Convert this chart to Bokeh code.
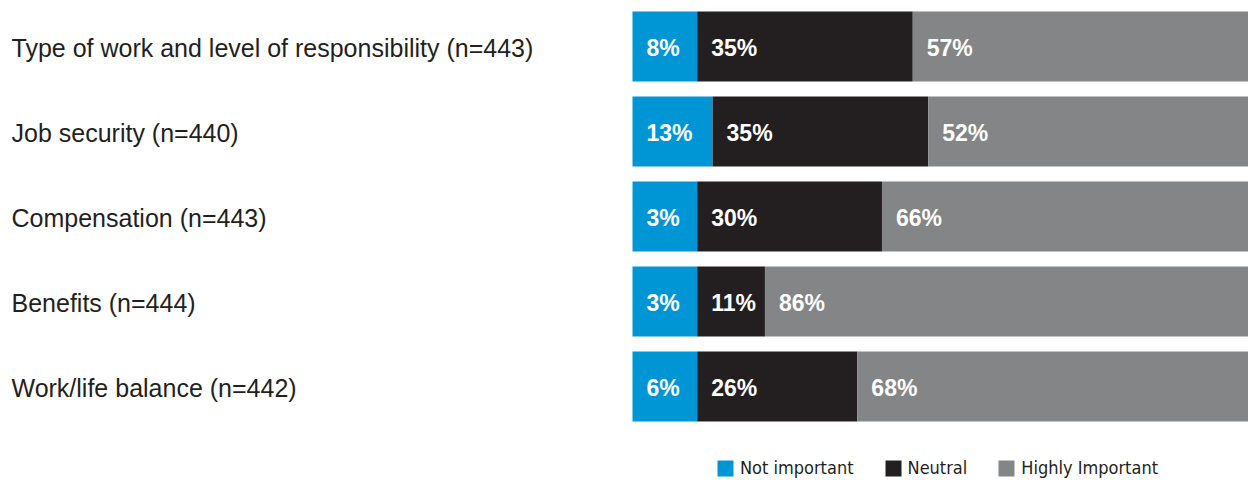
from bokeh.plotting import figure
from bokeh.models import Range1d, ColumnDataSource, Legend, LegendItem
from bokeh.core.properties import value
from bokeh.embed import file_html
from bokeh.resources import INLINE

categories = [
    "Type of work and level of responsibility (n=443)",
    "Job security (n=440)",
    "Compensation (n=443)",
    "Benefits (n=444)",
    "Work/life balance (n=442)",
]
not_important = [8, 13, 3, 3, 6]
neutral = [35, 35, 30, 11, 26]
highly_important = [57, 52, 66, 86, 68]
series_names = ["Not important", "Neutral", "Highly Important"]
colors = ["#0096D6", "#231F20", "#848587"]

W, H = 1248, 480
BAR_LEFT = 632          # pixel where 0% sits
PX_PER_UNIT = (W - BAR_LEFT) / 100.0
ROW_PITCH = 85.0
FIRST_CENTER = 46.0
MIN_SEG = 10.5          # minimum drawn width (in % units) so a label fits

rows = list(range(len(categories)))
x_start = -BAR_LEFT / PX_PER_UNIT
y_top = -FIRST_CENTER / ROW_PITCH
y_bottom = (H - FIRST_CENTER) / ROW_PITCH

p = figure(width=W, height=H, output_backend="svg", toolbar_location=None,
           x_range=Range1d(x_start, 100), y_range=Range1d(y_bottom, y_top),
           min_border=0)
p.axis.visible = False
p.grid.visible = False
p.outline_line_color = None
p.background_fill_color = "white"
p.border_fill_color = "white"

# drawn extents: first segment gets a minimum width, last segment fills to 100%
b_right = [max(v, MIN_SEG) for v in not_important]
n_right = [b + v for b, v in zip(b_right, neutral)]
extents = [
    ([0.0] * len(rows), b_right, not_important),
    (b_right, n_right, neutral),
    (n_right, [100.0] * len(rows), highly_important),
]

renderers = []
label_sources = []
for name, col, (lefts, rights, vals) in zip(series_names, colors, extents):
    src = ColumnDataSource(dict(y=rows, left=lefts, right=rights,
                                lab=[f"{v}%" for v in vals]))
    r = p.hbar(y="y", left="left", right="right", height=70 / ROW_PITCH,
               source=src, fill_color=col, line_color=None)
    renderers.append(r)
    label_sources.append(src)

for src in label_sources:
    p.text(x="left", y="y", text="lab", source=src, x_offset=14, y_offset=1,
           text_color="white", text_font=value("Liberation Sans"),
           text_font_style="bold", text_font_size="23px",
           text_baseline="middle", text_align="left")

cat_src = ColumnDataSource(dict(y=rows, x=[x_start] * len(rows), t=categories))
p.text(x="x", y="y", text="t", source=cat_src, x_offset=11, y_offset=1,
       text_color="#231F20", text_font=value("Liberation Sans"),
       text_font_size="25px", text_baseline="middle", text_align="left")

legend = Legend(items=[LegendItem(label=n, renderers=[r]) for n, r in zip(series_names, renderers)],
                location=(715, 2), orientation="horizontal",
                glyph_width=20, glyph_height=20, label_standoff=5, spacing=29,
                padding=0, margin=0, label_text_font="DejaVu Sans Condensed, Roboto",
                label_text_font_size="18px", label_text_color="#231F20",
                label_height=20, background_fill_alpha=0, border_line_alpha=0)
p.add_layout(legend, "center")

open("out.html", "w").write(file_html(p, INLINE))
